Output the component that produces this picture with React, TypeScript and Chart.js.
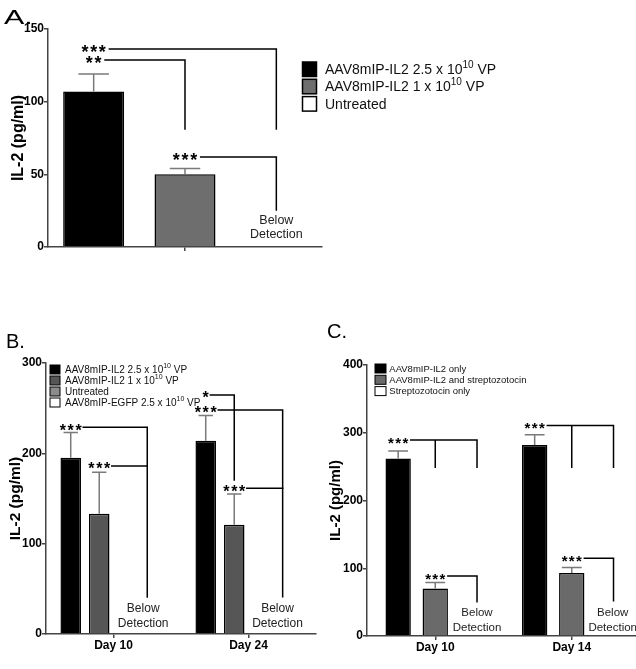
import React, { useEffect, useRef } from 'react';
import { Chart, registerables } from 'chart.js';
Chart.register(...registerables);

const FONT = '"Liberation Sans", Arial, Helvetica, sans-serif';
Chart.defaults.font.family = FONT;

// ---------- Panel A data ----------
const groupsA = ['', '', ''];
const il2A = [107, 50, 0];
const il2ErrA = [12, 4, 0];
const colorsA = ['#000000', '#6e6e6e', '#ffffff'];
const legendA = ['AAV8mIP-IL2 2.5 x 10^10 VP', 'AAV8mIP-IL2 1 x 10^10 VP', 'Untreated'];
const yTicksA = [0, 50, 100, 150];

// ---------- Panel B data ----------
const daysB = ['Day 10', 'Day 24'];
const highDoseB = [195, 214];
const highDoseErrB = [28, 28];
const lowDoseB = [133, 121];
const lowDoseErrB = [46, 34];
const untreatedB = [0, 0];
const egfpB = [0, 0];
const colorsB = ['#000000', '#565656', '#8c8c8c', '#ffffff'];
const legendB = [
  'AAV8mIP-IL2 2.5 x 10^10 VP',
  'AAV8mIP-IL2 1 x 10^10 VP',
  'Untreated',
  'AAV8mIP-EGFP 2.5 x 10^10 VP',
];
const yTicksB = [0, 100, 200, 300];

// ---------- Panel C data ----------
const daysC = ['Day 10', 'Day 14'];
const il2OnlyC = [262, 282];
const il2OnlyErrC = [11, 15];
const il2StzC = [70, 93];
const il2StzErrC = [9, 8];
const stzOnlyC = [0, 0];
const colorsC = ['#000000', '#6a6a6a', '#ffffff'];
const legendC = ['AAV8mIP-IL2 only', 'AAV8mIP-IL2 and streptozotocin', 'Streptozotocin only'];
const yTicksC = [0, 100, 200, 300, 400];

const Y_TITLE = 'IL-2 (pg/ml)';

// ---------- panel specs (layout / annotations) ----------
const specA: any = {
  W: 636, H: 262, left: 0, top: 0,
  area: { left: 48, top: 29, right: 322, bottom: 247 },
  labels: groupsA,
  datasets: [{ data: il2A, color: colorsA, err: il2ErrA }],
  barPct: 0.668, catPct: 1,
  yTicks: yTicksA,
  titleSize: 16, titlePad: 9.4,
  midTickOnly: true, xTickPad: 0,
  capFrac: 0.5,
  star: { size: 18, pitch: 8.7, gap: 3.5, dy: 0.52 },
  noteSize: 12.5,
  brackets: [
    { at: [0, 0], y: 136.3, n: 3, to: 2, drops: [{ x: 2, y2: 81.2 }] },
    { at: [0, 0], y: 128.7, n: 2, to: 1, drops: [{ x: 1, y2: 81.2 }] },
    { at: [0, 1], y: 61.9, n: 3, to: 2, drops: [{ x: 2, y2: 25.5 }] },
  ],
  notes: [
    { x: 2, y: 17.9, text: 'Below' },
    { x: 2, y: 8.3, text: 'Detection' },
  ],
  letter: { text: 'A.', x: 4, y: 18, size: 21, sx: 1.45 },
  legend: { items: legendA, colors: colorsA, x: 302.5, top: 62, pitch: 17.3, bw: 14, bh: 14.5, textX: 325, size: 14, supSize: 10, supRaise: 5.5, border: 1.5, dy: 1 },
};

const specB: any = {
  W: 318, H: 351, left: 0, top: 318,
  area: { left: 46, top: 45, right: 316, bottom: 316 },
  labels: daysB,
  datasets: [
    { data: highDoseB, color: colorsB[0], err: highDoseErrB },
    { data: lowDoseB, color: colorsB[1], err: lowDoseErrB },
    { data: untreatedB, color: colorsB[2] },
    { data: egfpB, color: colorsB[3] },
  ],
  barPct: 0.72, catPct: 0.845,
  yTicks: yTicksB,
  titleSize: 15.5, titlePad: 6.2,
  midTickOnly: false, xTickPad: 0,
  capFrac: 0.7,
  star: { size: 16, pitch: 7.9, gap: 1.5, dy: 0.52 },
  noteSize: 12,
  brackets: [
    { at: [0, 0], y: 228.8, n: 3, to: 0.25, drops: [{ x: 0.25, y2: 41 }] },
    { at: [1, 0], y: 186, n: 3, to: 0.25, drops: [] },
    { at: [0, 1], y: 264.6, n: 1, to: [1, 1], drops: [{ x: [1, 1], y2: 170.5 }] },
    { at: [0, 1], y: 248, n: 3, to: 1.253, drops: [{ x: 1.253, y2: 41.3 }] },
    { at: [1, 1], y: 161.3, n: 3, to: 1.253, drops: [] },
  ],
  notes: [
    { x: 0.22, y: 28.5, text: 'Below' },
    { x: 0.22, y: 11.8, text: 'Detection' },
    { x: 1.215, y: 28.5, text: 'Below' },
    { x: 1.215, y: 11.8, text: 'Detection' },
  ],
  letter: { text: 'B.', x: 6, y: 24, size: 20, sx: 1 },
  legend: { items: legendB, colors: colorsB, x: 50, top: 47, pitch: 11, bw: 10, bh: 9, textX: 65, size: 10, supSize: 7, supRaise: 3.5, border: 1, dy: 0.5 },
};

const specC: any = {
  W: 330, H: 351, left: 318, top: 318,
  area: { left: 49, top: 47, right: 322, bottom: 318 },
  labels: daysC,
  datasets: [
    { data: il2OnlyC, color: colorsC[0], err: il2OnlyErrC },
    { data: il2StzC, color: colorsC[1], err: il2StzErrC },
    { data: stzOnlyC, color: colorsC[2] },
  ],
  barPct: 0.684, catPct: 0.815,
  yTicks: yTicksC,
  titleSize: 15, titlePad: 9,
  midTickOnly: false, xTickPad: 0.5,
  capFrac: 0.78,
  star: { size: 15, pitch: 7.2, gap: 2.5, dy: 0.52 },
  noteSize: 11.5,
  brackets: [
    { at: [0, 0], y: 289.3, n: 3, to: 0.306, drops: [{ x: [1, 0], y2: 249 }, { x: 0.306, y2: 249 }] },
    { at: [1, 0], y: 88.6, n: 3, to: 0.306, drops: [{ x: 0.306, y2: 50.6 }] },
    { at: [0, 1], y: 310.7, n: 3, to: 1.306, drops: [{ x: [1, 1], y2: 249 }, { x: 1.306, y2: 249 }] },
    { at: [1, 1], y: 114.7, n: 3, to: 1.306, drops: [{ x: 1.306, y2: 52.1 }] },
  ],
  notes: [
    { x: 0.306, y: 33.5, text: 'Below' },
    { x: 0.306, y: 11.4, text: 'Detection' },
    { x: 1.3, y: 33.5, text: 'Below' },
    { x: 1.3, y: 11.4, text: 'Detection' },
  ],
  letter: { text: 'C.', x: 9, y: 14, size: 20, sx: 1 },
  legend: { items: legendC, colors: colorsC, x: 57, top: 46, pitch: 11.3, bw: 11, bh: 9, textX: 71.3, size: 9.5, supSize: 7, supRaise: 3.5, border: 1, dy: 0.5 },
};

// ---------- drawing helpers ----------
function drawStars(ctx: any, cx: number, cy: number, n: number, st: any) {
  const s = '*'.repeat(n);
  ctx.font = `bold ${st.size}px ${FONT}`;
  ctx.letterSpacing = '0px';
  const gw = ctx.measureText('*').width;
  const extra = st.pitch - gw;
  ctx.letterSpacing = `${extra}px`;
  const w = n * gw + (n - 1) * extra;
  ctx.textAlign = 'left';
  ctx.textBaseline = 'alphabetic';
  ctx.fillStyle = '#000';
  ctx.fillText(s, cx - w / 2, cy + st.size * st.dy);
  ctx.letterSpacing = '0px';
  return w / 2;
}

function drawLegend(ctx: any, L: any) {
  L.items.forEach((label: string, k: number) => {
    const top = L.top + k * L.pitch;
    ctx.fillStyle = L.colors[k];
    ctx.fillRect(L.x, top, L.bw, L.bh);
    ctx.strokeStyle = '#000';
    ctx.lineWidth = L.border;
    ctx.strokeRect(L.x, top, L.bw, L.bh);
    const cy = top + L.bh / 2 + L.dy;
    let tx = L.textX;
    const parts = label.split(/\^(\d+)/);
    parts.forEach((p, j) => {
      const sup = j % 2 === 1;
      ctx.font = `${sup ? L.supSize : L.size}px ${FONT}`;
      ctx.fillStyle = '#111';
      ctx.textAlign = 'left';
      ctx.textBaseline = 'middle';
      ctx.fillText(p, tx, cy - (sup ? L.supRaise : 0));
      tx += ctx.measureText(p).width;
    });
  });
}

function overlay(spec: any) {
  return {
    id: 'overlay',
    afterDraw(chart: any) {
      const ctx = chart.ctx;
      const xs = chart.scales.x;
      const ys = chart.scales.y;
      const px = (r: any) =>
        Array.isArray(r) ? chart.getDatasetMeta(r[0]).data[r[1]].x : xs.getPixelForValue(r);
      ctx.save();

      // error bars
      ctx.strokeStyle = '#7a7a7a';
      ctx.lineWidth = 1.5;
      spec.datasets.forEach((d: any, di: number) => {
        if (!d.err) return;
        const meta = chart.getDatasetMeta(di);
        d.data.forEach((v: number, i: number) => {
          const e = d.err[i];
          if (!e) return;
          const el = meta.data[i];
          const top = ys.getPixelForValue(v + e);
          const half = (el.width * spec.capFrac) / 2;
          ctx.beginPath();
          ctx.moveTo(el.x, el.y);
          ctx.lineTo(el.x, top);
          ctx.moveTo(el.x - half, top);
          ctx.lineTo(el.x + half, top);
          ctx.stroke();
        });
      });

      // significance brackets
      spec.brackets.forEach((b: any) => {
        const cx = px(b.at);
        const cy = ys.getPixelForValue(b.y);
        const hw = drawStars(ctx, cx, cy, b.n, spec.star);
        ctx.strokeStyle = '#000';
        ctx.lineWidth = 1.5;
        ctx.lineCap = 'square';
        ctx.beginPath();
        ctx.moveTo(cx + hw + spec.star.gap, cy);
        ctx.lineTo(px(b.to), cy);
        b.drops.forEach((d: any) => {
          const dx = px(d.x);
          ctx.moveTo(dx, cy);
          ctx.lineTo(dx, ys.getPixelForValue(d.y2));
        });
        ctx.stroke();
        ctx.lineCap = 'butt';
      });

      // notes
      ctx.font = `${spec.noteSize}px ${FONT}`;
      ctx.fillStyle = '#222';
      ctx.textAlign = 'center';
      ctx.textBaseline = 'middle';
      spec.notes.forEach((n: any) => {
        ctx.fillText(n.text, px(n.x), ys.getPixelForValue(n.y));
      });

      // panel letter
      ctx.save();
      ctx.translate(spec.letter.x, spec.letter.y);
      ctx.scale(spec.letter.sx, 1);
      ctx.font = `${spec.letter.size}px ${FONT}`;
      ctx.fillStyle = '#000';
      ctx.textAlign = 'left';
      ctx.textBaseline = 'middle';
      ctx.fillText(spec.letter.text, 0, 0);
      ctx.restore();

      drawLegend(ctx, spec.legend);
      ctx.restore();
    },
  };
}

function makeChart(canvas: HTMLCanvasElement, spec: any) {
  const yt = spec.yTicks;
  const axisColor = '#444';
  return new Chart(canvas, {
    type: 'bar',
    data: {
      labels: spec.labels,
      datasets: spec.datasets.map((d: any) => ({
        data: d.data,
        backgroundColor: d.color,
        borderColor: '#000',
        borderWidth: 1.5,
        barPercentage: spec.barPct,
        categoryPercentage: spec.catPct,
      })),
    },
    options: {
      responsive: false,
      maintainAspectRatio: false,
      animation: false,
      events: [],
      layout: {
        padding: { left: 0, top: spec.area.top, right: spec.W - spec.area.right, bottom: 0 },
      },
      plugins: { legend: { display: false }, tooltip: { enabled: false } },
      scales: {
        x: {
          type: 'category',
          offset: true,
          border: { display: true, color: axisColor, width: 1.5 },
          grid: {
            display: true,
            drawOnChartArea: false,
            drawTicks: true,
            tickLength: 4,
            offset: false,
            lineWidth: 1.5,
            color: axisColor,
            tickColor: spec.midTickOnly
              ? (c: any) => (c.index === 1 ? axisColor : 'rgba(0,0,0,0)')
              : axisColor,
          },
          ticks: {
            color: '#000',
            font: { size: 12, weight: 'bold' },
            padding: spec.xTickPad,
            maxRotation: 0,
            autoSkip: false,
          },
          afterFit: (s: any) => {
            s.height = spec.H - spec.area.bottom;
          },
        },
        y: {
          min: yt[0],
          max: yt[yt.length - 1],
          border: { display: true, color: axisColor, width: 1.5 },
          grid: { drawOnChartArea: false, tickLength: 4, lineWidth: 1.5, color: axisColor },
          ticks: {
            stepSize: yt[1] - yt[0],
            color: '#000',
            font: { size: 12, weight: 'bold' },
            padding: 0,
          },
          title: {
            display: true,
            text: Y_TITLE,
            color: '#000',
            font: { size: spec.titleSize, weight: 'bold' },
            padding: { top: spec.titlePad, bottom: 0 },
          },
          afterFit: (s: any) => {
            s.width = spec.area.left;
          },
        },
      },
    } as any,
    plugins: [overlay(spec) as any],
  });
}

function Panel({ spec }: { spec: any }) {
  const ref = useRef<HTMLCanvasElement>(null);
  useEffect(() => {
    const chart = makeChart(ref.current as HTMLCanvasElement, spec);
    return () => chart.destroy();
  }, [spec]);
  return (
    <canvas
      ref={ref}
      width={spec.W}
      height={spec.H}
      style={{ position: 'absolute', left: spec.left, top: spec.top, width: spec.W, height: spec.H }}
    />
  );
}

export default function App() {
  return (
    <div
      style={{
        position: 'fixed',
        left: 0,
        top: 0,
        width: 636,
        height: 669,
        overflow: 'hidden',
        background: '#fff',
      }}
    >
      <Panel spec={specA} />
      <Panel spec={specB} />
      <Panel spec={specC} />
    </div>
  );
}
